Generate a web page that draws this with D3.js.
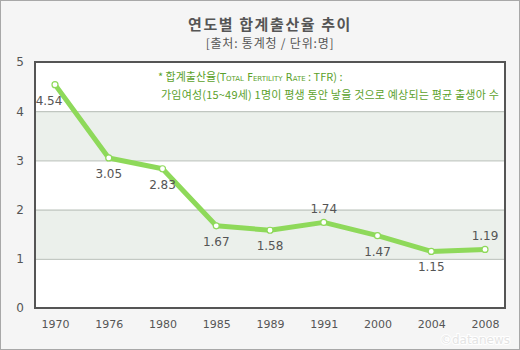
<!DOCTYPE html>
<html><head><meta charset="utf-8">
<script src="https://cdn.jsdelivr.net/npm/d3@7"></script>
<style>html,body{margin:0;padding:0;background:#fff}</style>
</head><body>
<script>
const years = ["1970","1976","1980","1985","1989","1991","2000","2004","2008"];
const tfr = [4.54, 3.05, 2.83, 1.67, 1.58, 1.74, 1.47, 1.15, 1.19];
const labelSide = ["below","below","below","below","below","above","below","below","above"];
const yTicks = [0,1,2,3,4,5];
const title = "연도별 합계출산율 추이";
const subtitle = "[출처: 통계청 / 단위:명]";

const W = 520, H = 350;
const svg = d3.select("body").append("svg").attr("width", W).attr("height", H)
  .style("font-family", "'Noto Sans CJK KR', 'DejaVu Sans', sans-serif");

svg.append("rect").attr("x",0.5).attr("y",0.5).attr("width",W-1).attr("height",H-1)
  .attr("fill","#f5f5f5").attr("stroke","#a8a8a8");

const L = 35, R = 505, T = 62, B = 308;
const x = d3.scalePoint().domain(years).range([L, R]).padding(0.372);
const y = d3.scaleLinear().domain([0,5]).range([B, T]);

svg.append("rect").attr("x",L).attr("y",T).attr("width",R-L).attr("height",B-T).attr("fill","#fff");
// bands
[[3,4],[1,2]].forEach(([a,b]) => {
  svg.append("rect").attr("x",L).attr("y",y(b)).attr("width",R-L).attr("height",y(a)-y(b)).attr("fill","#ebf0eb");
});
// grid
svg.append("g").selectAll("line").data([1,2,3,4]).join("line")
  .attr("x1",L).attr("x2",R).attr("y1",d=>y(d)+0.5).attr("y2",d=>y(d)+0.5)
  .attr("stroke","#b5bcb5").attr("stroke-width",1);
svg.append("rect").attr("x",L).attr("y",T).attr("width",R-L).attr("height",B-T)
  .attr("fill","none").attr("stroke","#555").attr("stroke-width",2);

// y axis labels
const yAxis = d3.axisLeft(y).tickValues(yTicks).tickSize(0).tickPadding(0).tickFormat(d3.format("d"));
const gy = svg.append("g").attr("transform",`translate(20,0)`).call(yAxis);
gy.select(".domain").remove();
gy.selectAll("text").attr("text-anchor","middle").attr("fill","#555").style("font-size","12px")
  .style("font-family","'DejaVu Sans', sans-serif");

// x axis labels
const xAxis = d3.axisBottom(x).tickSize(0).tickPadding(0);
const gx = svg.append("g").attr("transform",`translate(0,${B+12})`).call(xAxis);
gx.select(".domain").remove();
gx.selectAll("text").attr("fill","#555").style("font-size","11px")
  .style("font-family","'DejaVu Sans', sans-serif");

// titles
svg.append("text").attr("x",270).attr("y",30).attr("text-anchor","middle")
  .attr("fill","#555").style("font-size","15px").style("font-weight","bold")
  .style("letter-spacing","1.6px").text(title);
svg.append("text").attr("x",270).attr("y",48).attr("text-anchor","middle")
  .attr("fill","#555").style("font-size","12px").style("letter-spacing","0.8px").text(subtitle);

// annotation
const ann = svg.append("text").attr("fill","#5ba12b").style("font-size","11px");
const t1 = ann.append("tspan").attr("x",158).attr("y",81);
t1.append("tspan").text("* 합계출산율(");
t1.append("tspan").style("font-variant","small-caps").style("font-size","10px").style("font-family","'DejaVu Sans', sans-serif").text("Total Fertility Rate");
t1.append("tspan").text(" : TFR) :");
ann.append("tspan").attr("x",161).attr("y",99).style("letter-spacing","0.2px")
  .text("가임여성(15~49세) 1명이 평생 동안 낳을 것으로 예상되는 평균 출생아 수");

// line
const line = d3.line().x((d,i)=>x(years[i])).y(d=>y(d));
svg.append("path").datum(tfr).attr("d",line).attr("fill","none")
  .attr("stroke","#8ed95a").attr("stroke-width",5).attr("stroke-linejoin","round");
svg.append("g").selectAll("circle").data(tfr).join("circle")
  .attr("cx",(d,i)=>x(years[i])).attr("cy",d=>y(d)).attr("r",3)
  .attr("fill","#fff").attr("stroke","#8ed95a").attr("stroke-width",1.2);

// value labels
svg.append("g").selectAll("text").data(tfr).join("text")
  .attr("x",(d,i)=>x(years[i]) - (i===0?6:0))
  .attr("y",(d,i)=>y(d) + (labelSide[i]==="above" ? -9 : 20))
  .attr("text-anchor","middle").attr("fill","#555").style("font-size","12px")
  .style("font-family","'DejaVu Sans', sans-serif")
  .text(d=>d.toFixed(2));

// watermark
svg.append("text").attr("x",510).attr("y",344).attr("text-anchor","end")
  .attr("fill","#e4e4e4").attr("stroke","#fff").attr("stroke-width",2).attr("paint-order","stroke")
  .style("font-size","12px").style("font-family","'DejaVu Sans', sans-serif").text("©datanews");
</script>
</body></html>
